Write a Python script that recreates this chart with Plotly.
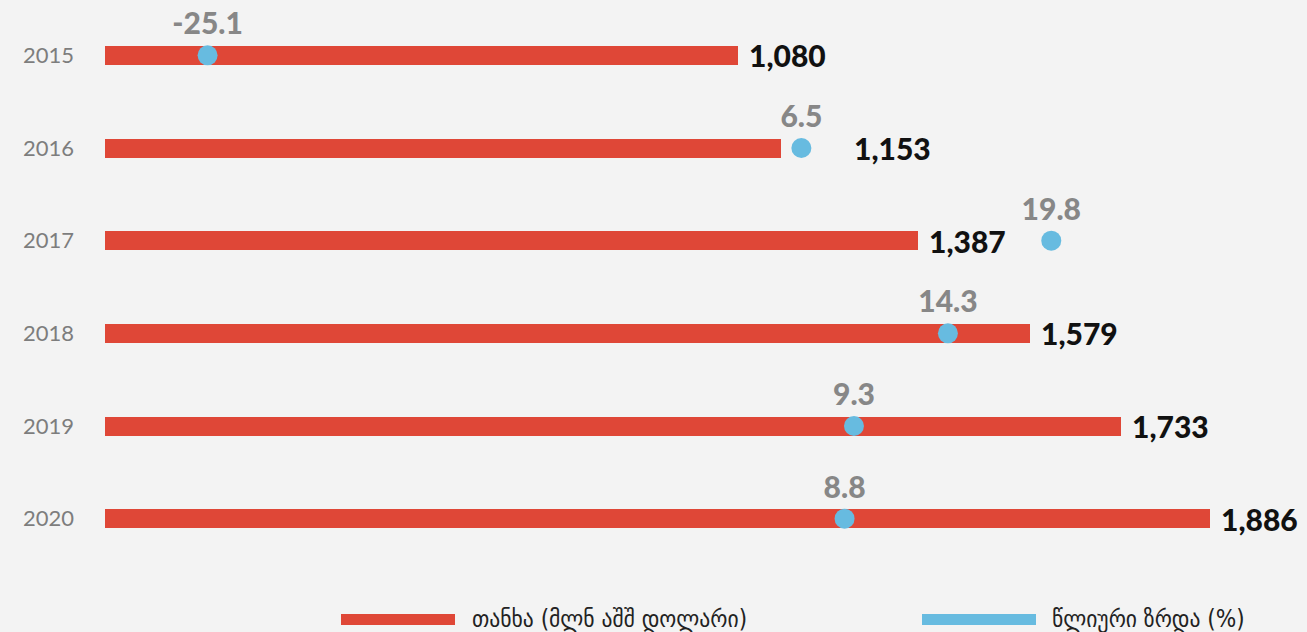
import plotly.graph_objects as go

years = ["2015", "2016", "2017", "2018", "2019", "2020"]
amount = [1080, 1153, 1387, 1579, 1733, 1886]          # მლნ აშშ დოლარი
growth = [-25.1, 6.5, 19.8, 14.3, 9.3, 8.8]            # %
legend_labels = ["თანხა (მლნ აშშ დოლარი)", "წლიური ზრდა (%)"]

RED = "#df4737"
BLUE = "#67bbe0"
BG = "#f3f3f3"

W, H = 1307, 632
ML, MT, MB = 105, 9, 67
PW, PH = W - ML, H - MT - MB

# horizontal pixel offset of each value label (2016 sits past its growth dot)
label_shift = [10, 72, 10, 10, 10, 10]


def px_x(p):
    return (p - ML) / PW


def px_y(p):
    return (H - MB - p) / PH


fig = go.Figure()

fig.add_trace(go.Bar(
    x=amount, y=years, orientation="h",
    marker=dict(color=RED, line=dict(width=0)),
    width=0.205, name=legend_labels[0], showlegend=False,
    hoverinfo="x+y",
))

fig.add_trace(go.Scatter(
    x=growth, y=years, xaxis="x2", mode="markers+text",
    marker=dict(color=BLUE, size=20),
    text=[f"{g:.1f}" for g in growth], textposition="top center",
    textfont=dict(family="Lato", size=30, color="#878787", weight=900),
    name=legend_labels[1], showlegend=False, cliponaxis=False,
))

# value labels to the right of each bar (category index used for y)
for i, (v, sh) in enumerate(zip(amount, label_shift)):
    fig.add_annotation(
        x=v, y=i, xref="x", yref="y", text=f"{v:,}",
        showarrow=False, xanchor="left", yanchor="middle", xshift=sh - 1,
        font=dict(family="Lato", size=30, color="#111111", weight=900),
    )

# legend row
legend_items = [(RED, 341, 455, 472), (BLUE, 922, 1036, 1052)]
for (col, x0, x1, tx), lab in zip(legend_items, legend_labels):
    fig.add_shape(type="rect", xref="paper", yref="paper",
                  x0=px_x(x0), x1=px_x(x1), y0=px_y(614), y1=px_y(625),
                  fillcolor=col, line=dict(width=0), layer="above")
    fig.add_annotation(x=px_x(tx), y=px_y(619), xref="paper", yref="paper",
                       text=lab, showarrow=False, xanchor="left", yanchor="middle",
                       xshift=-2,
                       font=dict(family="DejaVu Sans Condensed", size=24, color="#222222"))

fig.update_layout(
    width=W, height=H,
    margin=dict(l=ML, r=0, t=MT, b=MB),
    paper_bgcolor=BG, plot_bgcolor=BG,
    showlegend=False,
    xaxis=dict(range=[0, 2051], visible=False, fixedrange=True),
    xaxis2=dict(range=[-30.56, 33.41], overlaying="x", side="top",
                visible=False, fixedrange=True),
    yaxis=dict(type="category", categoryorder="array", categoryarray=years,
               range=[5.5, -0.5], showgrid=False, zeroline=False,
               showline=False, ticks="", ticklabelstandoff=30,
               tickfont=dict(family="Lato", size=22, color="#7d7d7d", weight=400)),
    bargap=0,
)

fig.write_html("out.html")
